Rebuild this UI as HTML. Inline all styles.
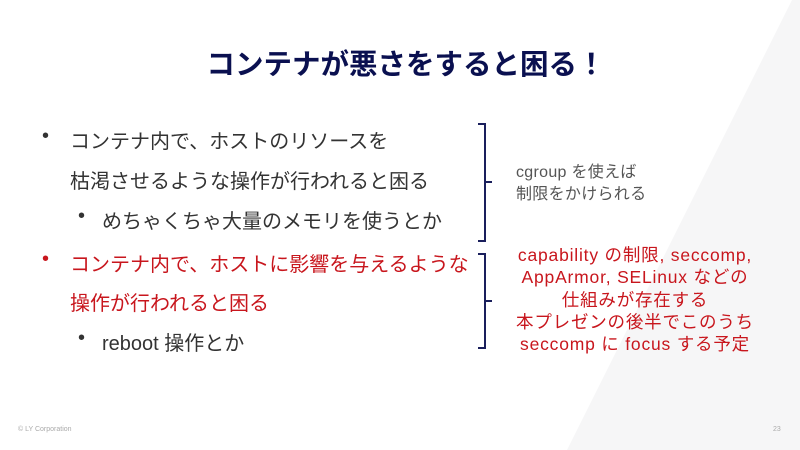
<!DOCTYPE html>
<html><head><meta charset="utf-8"><style>
body{margin:0;width:800px;height:450px;position:relative;overflow:hidden;background:#fff;font-family:"Liberation Sans","Noto Sans CJK JP",sans-serif;}
.t{position:absolute;white-space:nowrap;}
</style></head><body>
<svg width="800" height="450" style="position:absolute;left:0;top:0">
<polygon points="792,0 800,0 800,450 567,450" fill="#f6f6f7"/>
<g fill="none" stroke="#1a1f5c" stroke-width="2">
<path d="M478,124 h7 v117 h-7 M485,182 h7"/>
<path d="M478,254 h7 v94 h-7 M485,301 h7"/>
</g>
</svg>
<div class="t" style="left:0;width:812px;text-align:center;top:42px;font-size:28.5px;font-weight:bold;color:#0a1050">コンテナが悪さをすると困る！</div>
<div class="t" style="left:42px;top:125px;font-size:20px;color:#333">•</div>
<div class="t" style="left:70px;top:125px;font-size:20px;color:#333">コンテナ内で、ホストのリソースを</div>
<div class="t" style="left:70px;top:165px;font-size:20px;color:#333">枯渇させるような操作が行われると困る</div>
<div class="t" style="left:78px;top:205px;font-size:20px;color:#333">•</div>
<div class="t" style="left:102px;top:205px;font-size:20px;color:#333">めちゃくちゃ大量のメモリを使うとか</div>
<div class="t" style="left:42px;top:248px;font-size:20px;color:#c8161d">•</div>
<div class="t" style="left:70px;top:248px;font-size:20px;color:#c8161d">コンテナ内で、ホストに影響を与えるような</div>
<div class="t" style="left:70px;top:287px;font-size:20px;color:#c8161d">操作が行われると困る</div>
<div class="t" style="left:78px;top:327px;font-size:20px;color:#333">•</div>
<div class="t" style="left:102px;top:327px;font-size:20px;color:#333">reboot 操作とか</div>
<div class="t" style="left:516px;top:162px;font-size:16px;line-height:22px;color:#555;letter-spacing:0.3px">cgroup を使えば<br>制限をかけられる</div>
<div class="t" style="left:485px;top:244px;width:300px;text-align:center;font-size:17.5px;line-height:22.3px;color:#c8161d;letter-spacing:0.8px">capability の制限, seccomp,<br>AppArmor, SELinux などの<br>仕組みが存在する<br>本プレゼンの後半でこのうち<br>seccomp に focus する予定</div>
<div class="t" style="left:18px;top:426px;font-size:7px;color:#aaa">© LY Corporation</div>
<div class="t" style="left:773px;top:426px;font-size:7px;color:#aaa">23</div>
</body></html>
